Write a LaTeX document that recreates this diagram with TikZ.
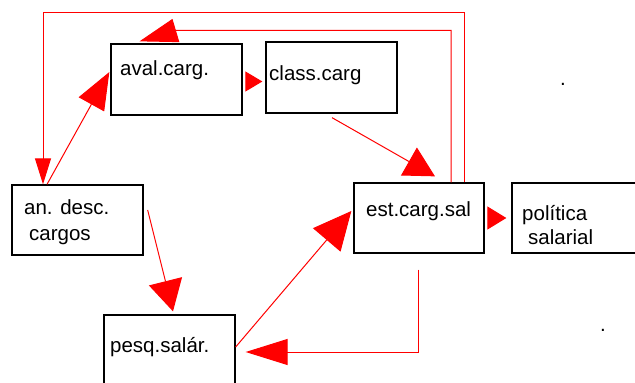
\documentclass[tikz,border=0pt]{standalone}
\usepackage{fontspec}
\setmainfont{Liberation Sans}
\usetikzlibrary{arrows.meta, positioning}

\begin{document}
\begin{tikzpicture}[x=1pt, y=-1pt, font=\fontsize{20.5}{24}\selectfont]
  % Define colors
  \definecolor{flowred}{HTML}{FF0000}
  \tikzset{
    box/.style={draw=black, line width=1.3pt, minimum width=131pt, minimum height=71pt, inner sep=0pt},
    lbl/.style={anchor=base west, inner sep=0pt},
    flow/.style={draw=flowred, line width=1pt},
  }
  \useasboundingbox (0,0) rectangle (635,383);
  \clip (0,0) rectangle (635,383);

  % Row 1
  % Box 1: aval.carg.
  \node[box] (aval) at (176.5, 79.5) {};
  \node[lbl] (avaltxt) at (120, 75) {aval.carg.};

  % Box 2: class.carg
  \node[box] (class) at (331.5, 77.5) {};
  \node[lbl] (classtxt) at (269, 80) {class.carg};

  % Row 2
  % Box 3: an. desc. cargos
  \node[box, minimum height=70pt] (desc) at (77.5, 220) {};
  \node[lbl] (desctxta) at (24, 214) {an. desc.};
  \node[lbl] (desctxtb) at (29, 240) {cargos};

  % Box 4: est.carg.sal
  \node[box, minimum width=130pt, minimum height=70pt] (est) at (419, 218) {};
  \node[lbl] (esttxt) at (366, 216) {est.carg.sal};

  % Box 5: politica salarial
  \node[box, minimum width=130pt, minimum height=70pt] (pol) at (577, 218) {};
  \node[lbl] (poltxta) at (522, 220) {política};
  \node[lbl] (poltxtb) at (528, 244) {salarial};

  % Row 3
  % Box 6: pesq.salar.
  \node[box, minimum height=70pt] (pesq) at (169.5, 350) {};
  \node[lbl] (pesqtxt) at (110, 352) {pesq.salár.};

  % stray dots
  \node[lbl, anchor=base] (dota) at (563, 85) {.};
  \node[lbl, anchor=base] (dotb) at (603, 331) {.};

  % Feedback loops
  \draw[flow, -{Triangle[length=26pt, width=16pt]}] ([shift={(45,0)}]est.north) -- ++(0,-170) -| ([shift={(-34.5,0)}]desc.north);
  \draw[flow, -{Triangle[length=38pt, width=24pt]}] ([shift={(32,0)}]est.north) |- ([shift={(0,-13)}]aval.north) -- ([shift={(-37,-2)}]aval.north);

  % Flow arrows
  \draw[flow, -{Triangle[length=37pt, width=29pt]}] ([shift={(-30.5,0)}]desc.north) -- ([shift={(-1,-7.5)}]aval.west);
  \draw[flow, -{Triangle[length=17pt, width=20pt]}] ([shift={(3,2)}]aval.east) -- ([shift={(-3,4)}]class.west);
  \draw[flow, -{Triangle[length=30pt, width=32pt]}] ([shift={(0.5,4)}]class.south) -- ([shift={(16,-6)}]est.north);
  \draw[flow, -{Triangle[length=31pt, width=34pt]}] ([shift={(4,-10)}]desc.east) -- ([shift={(3.5,-3)}]pesq.north);
  \draw[flow, -{Triangle[length=38pt, width=36pt]}] ([shift={(0,-3)}]pesq.east) -- ([shift={(-2,-7)}]est.west);
  \draw[flow, -{Triangle[length=42pt, width=26pt]}] ([shift={(-1,16)}]est.south) |- ([shift={(10,2)}]pesq.east);
  \draw[flow, -{Triangle[length=19pt, width=23pt]}] ([shift={(4,0)}]est.east) -- ([shift={(-5,0)}]pol.west);
\end{tikzpicture}
\end{document}
